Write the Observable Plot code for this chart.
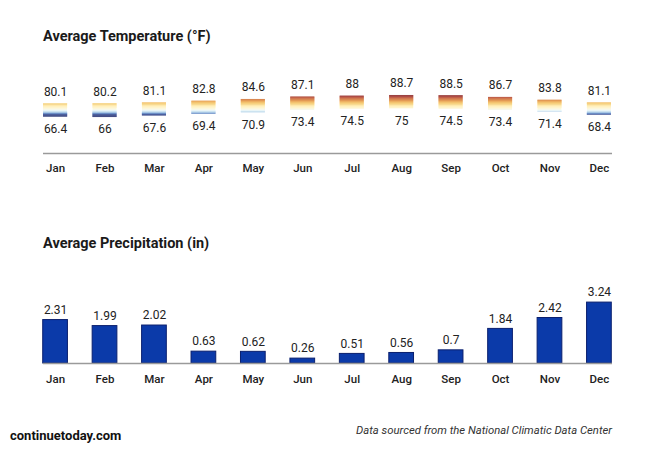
<!DOCTYPE html>
<html>
<head>
<meta charset="utf-8">
<script src="https://cdn.jsdelivr.net/npm/d3@7"></script>
<script src="https://cdn.jsdelivr.net/npm/@observablehq/plot@0.6"></script>
<style>
  html, body { margin: 0; padding: 0; background: #fff; }
  #page { position: relative; width: 650px; height: 450px; font-family: Roboto, "Noto Sans", sans-serif; color: #222; overflow: hidden; }
  .abs { position: absolute; left: 0; top: 0; }
  .title { position: absolute; left: 43px; font-weight: 700; font-size: 14.5px; color: #1a1a1a; }
  #brand { position: absolute; left: 10px; top: 428px; font-weight: 700; font-size: 13px; color: #111; }
  #source { position: absolute; right: 38px; top: 424px; font-style: italic; font-size: 11.3px; color: #333; }
</style>
</head>
<body>
<div id="page">
  <div class="title" style="top:28px">Average Temperature (°F)</div>
  <div class="title" style="top:235px">Average Precipitation (in)</div>
  <div id="brand">continuetoday.com</div>
  <div id="source">Data sourced from the National Climatic Data Center</div>
</div>
<script>
const months = ["Jan","Feb","Mar","Apr","May","Jun","Jul","Aug","Sep","Oct","Nov","Dec"];
const tempHigh = [80.1, 80.2, 81.1, 82.8, 84.6, 87.1, 88, 88.7, 88.5, 86.7, 83.8, 81.1];
const tempLow  = [66.4, 66, 67.6, 69.4, 70.9, 73.4, 74.5, 75, 74.5, 73.4, 71.4, 68.4];
const precip   = [2.31, 1.99, 2.02, 0.63, 0.62, 0.26, 0.51, 0.56, 0.7, 1.84, 2.42, 3.24];

const heatStops  = [66, 68.6, 69.6, 71, 73, 75, 77.5, 79.6, 81.5, 83.5, 85.5, 87.5, 89];
const heatColors = ["#08135a", "#112576", "#2f5db0", "#9fc6e6", "#eaf6f4", "#fbf3cc", "#fce7a0", "#f4c85c", "#eea63a", "#d2701c", "#bf4416", "#8c0e0c", "#6a0000"];
const heat = d3.scaleLinear().domain(heatStops).range(heatColors).clamp(true);

const temps = months.map((m, i) => ({month: m, high: tempHigh[i], low: tempLow[i]}));
const slices = [];
temps.forEach(d => {
  const step = 0.1;
  for (let t = d.low; t < d.high - 1e-9; t += step) {
    const top = Math.min(t + step * 1.3, d.high);
    slices.push({month: d.month, y1: t, y2: top, fill: heat(t + step / 2)});
  }
});
const rain = months.map((m, i) => ({month: m, value: precip[i]}));

const xOpts = {domain: months, padding: 0.5, range: [18, 636], round: false};
const fontCss = "font-family: Roboto, 'Noto Sans', sans-serif; background: transparent; overflow: visible;";

const tempPlot = Plot.plot({
  width: 650, height: 185,
  marginLeft: 18, marginRight: 14, marginTop: 0, marginBottom: 32,
  style: fontCss,
  x: {...xOpts, axis: null},
  y: {domain: [29, 100], range: [153, 84], axis: null},
  color: {type: "identity"},
  marks: [
    Plot.rectY(slices, {x: "month", y1: "y1", y2: "y2", fill: "fill", insetLeft: 0.3, insetRight: 0.3}),
    Plot.text(temps, {x: "month", y: "high", text: d => String(d.high), dy: -12, fontSize: 12, fill: "#222", fontWeight: 400}),
    Plot.text(temps, {x: "month", y: "low", text: d => String(d.low), dy: 12, fontSize: 12, fill: "#222", fontWeight: 400}),
    Plot.ruleY([29], {stroke: "#9a9a9a", strokeWidth: 1.5, insetLeft: 25, insetRight: 24}),
    Plot.axisX({tickSize: 0, tickPadding: 10, fontSize: 11.5, fontWeight: 500, color: "#222", label: null})
  ]
});
tempPlot.classList.add("abs");
document.getElementById("page").appendChild(tempPlot);

const rainPlot = Plot.plot({
  width: 650, height: 400,
  marginLeft: 18, marginRight: 14, marginTop: 0, marginBottom: 37,
  style: fontCss,
  x: {...xOpts, axis: null},
  y: {domain: [0, 4], range: [363, 287.8], axis: null},
  marks: [
    Plot.barY(rain, {x: "month", y: "value", fill: "#0b3aa9", stroke: "#0a1f6e", strokeWidth: 1}),
    Plot.text(rain, {x: "month", y: "value", text: d => String(d.value), dy: -10, fontSize: 12, fill: "#222", fontWeight: 400}),
    Plot.ruleY([0], {stroke: "#9a9a9a", strokeWidth: 1.5, insetLeft: 25, insetRight: 24}),
    Plot.axisX({tickSize: 0, tickPadding: 11, fontSize: 11.5, fontWeight: 500, color: "#222", label: null})
  ]
});
rainPlot.classList.add("abs");
document.getElementById("page").appendChild(rainPlot);
</script>
</body>
</html>
